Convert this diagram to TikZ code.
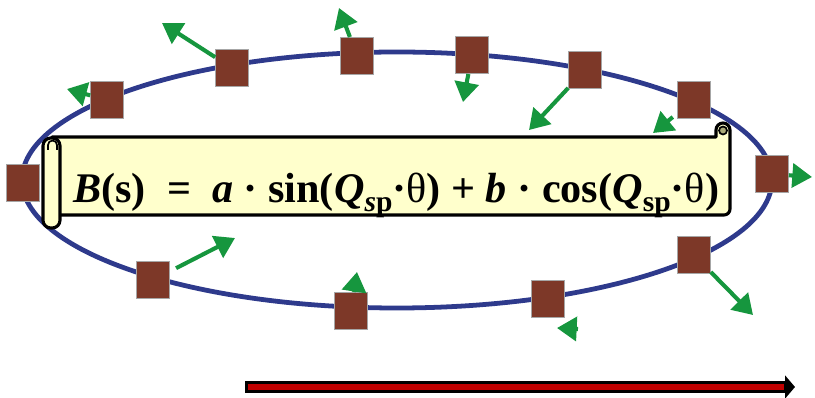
\documentclass[tikz,border=0pt]{standalone}
\usepackage{fontspec}
\setmainfont{Liberation Serif}
\usetikzlibrary{arrows.meta}

\definecolor{ringblue}{RGB}{46,58,140}
\definecolor{magbrown}{RGB}{125,56,40}
\definecolor{kickgreen}{RGB}{22,150,62}
\definecolor{scrollyellow}{RGB}{255,255,204}
\definecolor{curlolive}{RGB}{170,170,120}
\definecolor{beamred}{RGB}{192,0,0}

\newcommand{\bi}[1]{\textbf{\textit{#1}}}
\newcommand{\lowsub}[1]{\raisebox{-0.45ex}{\fontsize{21}{24}\selectfont #1}}

\begin{document}
\begin{tikzpicture}[x=0.025cm, y=-0.025cm,
    magnet/.style={rectangle, draw=gray!70, line width=0.6pt, fill=magbrown,
                   minimum width=0.82cm, minimum height=0.93cm, inner sep=0pt},
    kick/.style={-{Triangle[length=14pt, width=17pt]}, line width=2.9pt, kickgreen},
    ring/.style={line width=3.4pt, ringblue},
    scroll/.style={draw=black, line width=2.2pt, fill=scrollyellow, line join=round},
]
\useasboundingbox (0,0) rectangle (815,398);

% closed orbit
\draw[ring] (397,180) ellipse [x radius=375, y radius=128];

% magnets around the ring
\node[magnet] (m1) at (23,183) {};
\node[magnet] (m2) at (107,100) {};
\node[magnet] (m3) at (232,68) {};
\node[magnet] (m4) at (357,56) {};
\node[magnet] (m5) at (472,55) {};
\node[magnet] (m6) at (585,70) {};
\node[magnet] (m7) at (694,100) {};
\node[magnet] (m8) at (772,174) {};
\node[magnet] (m9) at (694,255) {};
\node[magnet] (m10) at (548,299) {};
\node[magnet] (m11) at (351,311) {};
\node[magnet] (m12) at (153,280) {};

% kick directions
\coordinate (k2) at (67,89);
\coordinate (k3) at (162,23);
\coordinate (k4) at (339,8);
\coordinate (k5) at (463,102);
\coordinate (k6) at (529,130);
\coordinate (k7) at (653,133);
\coordinate (k8) at (812,177);
\coordinate (k9) at (753,315);
\coordinate (k10s) at (578,329);
\coordinate (k10) at (557,328);
\coordinate (k11) at (357,272);
\coordinate (k12) at (235,238);

\draw[kick] (m2) -- (k2);
\draw[kick] (m3) -- (k3);
\draw[kick] (m4) -- (k4);
\draw[kick] (m5) -- (k5);
\draw[kick] (m6) -- (k6);
\draw[kick, shorten <=4pt] (m7) -- (k7);
\draw[kick] (m8) -- (k8);
\draw[kick] (m9) -- (k9);
\draw[kick] (k10s) -- (k10);
\draw[kick] (m11) -- (k11);
\draw[kick, shorten <=5pt] (m12) -- (k12);

% scroll with the field expansion
\draw[scroll] (52,137) -- (716,137) -- (716,130)
    arc[start angle=180, end angle=360, radius=7] -- (730,209)
    arc[start angle=0, end angle=90, radius=6] -- (52,215) -- cycle;
\draw[line width=1.2pt, fill=curlolive] (723,130.5) circle [radius=4];
\draw[scroll, rounded corners=5.5pt] (43,138) rectangle (60,228);
\draw[line width=1.2pt] (57,150) -- (57,145) arc[start angle=0, end angle=-180, radius=4.5]
    -- (48,150);

\node[font=\fontsize{30}{36}\selectfont, anchor=base west, inner sep=0pt] (eq) at (73,203)
    {\bi{B}\textbf{(s)} \ \textbf{=} \ \bi{a} \textbf{·} \textbf{sin(}\bi{Q}\lowsub{\bi{s}\textbf{p}}\textbf{·}θ\textbf{)}
     \textbf{+} \bi{b} \textbf{·} \textbf{cos(}\bi{Q}\lowsub{\textbf{sp}}\textbf{·}θ\textbf{)}};

% beam direction
\coordinate (b0) at (245,387);
\coordinate (b1) at (795,387);
\coordinate (r0) at (248,387);
\coordinate (r1) at (784,387);
\draw[line width=8.5pt, -{Triangle[length=7pt, width=16pt]}] (b0) -- (b1);
\draw[beamred, line width=4.3pt] (r0) -- (r1);
\end{tikzpicture}
\end{document}
